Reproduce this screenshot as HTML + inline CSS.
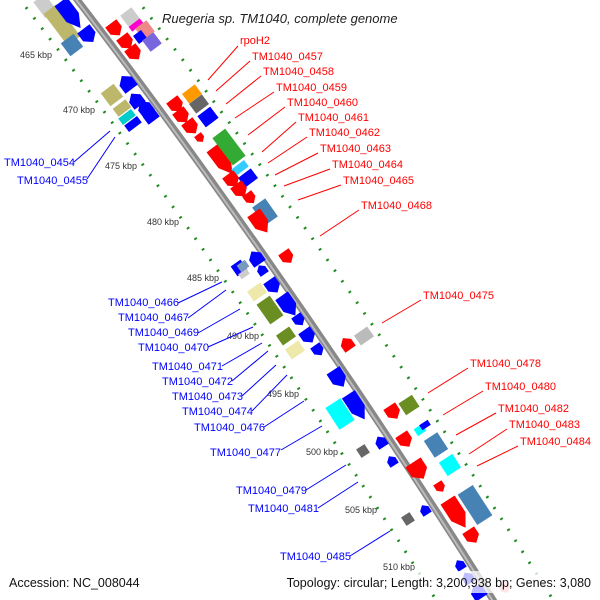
<!DOCTYPE html>
<html><head><meta charset="utf-8"><style>
html,body{margin:0;padding:0;background:#fff}
svg{display:block;font-family:"Liberation Sans",sans-serif}
.r{fill:#f00;font-size:11px}.b{fill:#00f;font-size:11px}.k{fill:#333;font-size:9px}
.lr{stroke:#f00;stroke-width:1}.lb{stroke:#00f;stroke-width:1}
</style></head><body>
<svg width="600" height="600" viewBox="0 0 600 600">
<defs>
<g id="ar"><polygon points="-7,-7 2,-7 8,0 2,7 -7,7"/></g>
<g id="al"><polygon points="7,-7 -2,-7 -8,0 -2,7 7,7"/></g>
</defs>
<!-- tracks -->
<path d="M75,-3 C170,120 330,340 495,603" transform="translate(-57,0)" fill="none" stroke="#228b22" stroke-width="3" stroke-dasharray="2 11"/>
<path d="M75,-3 C170,120 330,340 495,603" transform="translate(60,0)" fill="none" stroke="#228b22" stroke-width="3" stroke-dasharray="2 11"/>
<path d="M75,-3 C170,120 330,340 495,603" fill="none" stroke="#888" stroke-width="7"/>
<path d="M75,-3 C170,120 330,340 495,603" fill="none" stroke="#bbb" stroke-width="2" transform="translate(-1,0)"/>

<!-- genes -->
<g>
<rect x="-10" y="-7" width="20" height="14" fill="#ccc" transform="translate(45,6) rotate(53)"/>
<rect x="-20" y="-8" width="40" height="16" fill="#bdb76b" transform="translate(62,25) rotate(53)"/>
<rect x="-8" y="-8" width="16" height="16" fill="#4682b4" transform="translate(72,45) rotate(53)"/>
<use href="#ar" fill="#00f" transform="translate(70,14) rotate(53) scale(2.2,1.1)"/>
<use href="#ar" fill="#00f" transform="translate(88,35) rotate(53) scale(1.1,1.1)"/>
<rect x="-7" y="-7" width="14" height="14" fill="#ccc" transform="translate(130,17) rotate(53)"/>
<rect x="-3" y="-7" width="6" height="14" fill="#f0c" transform="translate(136,25) rotate(53)"/>
<rect x="-7" y="-7" width="14" height="14" fill="#e88" transform="translate(145,30) rotate(53)"/>
<rect x="-5" y="-5" width="10" height="10" fill="#00f" transform="translate(140,37) rotate(53)"/>
<rect x="-7" y="-7" width="14" height="14" fill="#76d" transform="translate(152,42) rotate(53)"/>
<use href="#ar" fill="#f00" transform="translate(115,29) rotate(53)"/>
<use href="#ar" fill="#f00" transform="translate(126,42) rotate(53)"/>
<use href="#ar" fill="#f00" transform="translate(134,53) rotate(53)"/>
<rect x="-8" y="-8" width="16" height="16" fill="#bdb76b" transform="translate(112,95) rotate(53)"/>
<rect x="-5" y="-8" width="10" height="16" fill="#bdb76b" transform="translate(122,108) rotate(53)"/>
<rect x="-4" y="-8" width="8" height="16" fill="#0cc" transform="translate(127,117) rotate(53)"/>
<rect x="-4" y="-8" width="8" height="16" fill="#00f" transform="translate(133,124) rotate(53)"/>
<use href="#al" fill="#00f" transform="translate(127,83) rotate(53) scale(1.1,1.1)"/>
<use href="#al" fill="#00f" transform="translate(136,100) rotate(53)"/>
<use href="#al" fill="#00f" transform="translate(145,108) rotate(53)"/>
<use href="#al" fill="#00f" transform="translate(150,115) rotate(53)"/>
<rect x="-6" y="-8" width="12" height="16" fill="#f90" transform="translate(192,94) rotate(53)"/>
<rect x="-6" y="-8" width="12" height="16" fill="#666" transform="translate(199,104) rotate(53)"/>
<rect x="-7" y="-8" width="14" height="16" fill="#00f" transform="translate(208,117) rotate(53)"/>
<use href="#ar" fill="#f00" transform="translate(176,105) rotate(53)"/>
<use href="#ar" fill="#f00" transform="translate(182,116) rotate(53)"/>
<use href="#ar" fill="#f00" transform="translate(191,127) rotate(53)"/>
<use href="#ar" fill="#f00" transform="translate(200,138) rotate(53) scale(0.6)"/>
<use href="#ar" fill="#f00" transform="translate(222,160) rotate(53) scale(2.2,1.1)"/>
<rect x="-17" y="-8" width="34" height="16" fill="#3a3" transform="translate(229,147) rotate(53)"/>
<rect x="-4" y="-8" width="8" height="16" fill="#3cf" transform="translate(240,168) rotate(53)"/>
<rect x="-6" y="-8" width="12" height="16" fill="#00f" transform="translate(248,178) rotate(53)"/>
<use href="#ar" fill="#f00" transform="translate(232,180) rotate(53)"/>
<use href="#ar" fill="#f00" transform="translate(240,190) rotate(53)"/>
<use href="#ar" fill="#f00" transform="translate(250,198) rotate(53) scale(0.8)"/>
<rect x="-11" y="-8" width="22" height="16" fill="#4682b4" transform="translate(265,212) rotate(55)"/>
<use href="#ar" fill="#f00" transform="translate(260,222) rotate(55) scale(1.6,1.1)"/>
<use href="#ar" fill="#f00" transform="translate(287,257) rotate(55) scale(0.9)"/>
<rect x="-6" y="-6" width="12" height="12" fill="#00f" transform="translate(239,268) rotate(55)"/>
<rect x="-4" y="-5" width="8" height="10" fill="#79b" transform="translate(243,266) rotate(55)"/>
<rect x="-3" y="-5" width="6" height="10" fill="#ccc" transform="translate(244,274) rotate(55)"/>
<use href="#al" fill="#00f" transform="translate(256,258) rotate(55)"/>
<use href="#al" fill="#00f" transform="translate(262,270) rotate(55) scale(0.7)"/>
<rect x="-6" y="-8" width="12" height="16" fill="#eee8aa" transform="translate(257,292) rotate(55)"/>
<rect x="-12" y="-8" width="24" height="16" fill="#6b8e23" transform="translate(270,310) rotate(55)"/>
<use href="#ar" fill="#00f" transform="translate(273,286) rotate(55)"/>
<use href="#ar" fill="#00f" transform="translate(288,305) rotate(55) scale(1.6,1.1)"/>
<use href="#ar" fill="#00f" transform="translate(299,320) rotate(55) scale(0.8)"/>
<use href="#ar" fill="#00f" transform="translate(308,336) rotate(55)"/>
<use href="#ar" fill="#00f" transform="translate(318,350) rotate(55) scale(0.8)"/>
<rect x="-6" y="-8" width="12" height="16" fill="#6b8e23" transform="translate(286,336) rotate(55)"/>
<rect x="-6" y="-8" width="12" height="16" fill="#eee8aa" transform="translate(295,350) rotate(55)"/>
<use href="#al" fill="#f00" transform="translate(347,344) rotate(55) scale(0.9)"/>
<rect x="-6" y="-8" width="12" height="16" fill="#bbb" transform="translate(364,336) rotate(55)"/>
<use href="#ar" fill="#00f" transform="translate(338,378) rotate(57) scale(1.3,1.1)"/>
<use href="#ar" fill="#00f" transform="translate(356,406) rotate(57) scale(2,1.1)"/>
<rect x="-13" y="-9" width="26" height="18" fill="#0ff" transform="translate(340,414) rotate(57)"/>
<rect x="-7" y="-8" width="14" height="16" fill="#6b8e23" transform="translate(409,405) rotate(57)"/>
<use href="#ar" fill="#f00" transform="translate(393,412) rotate(57)"/>
<rect x="-4" y="-5" width="8" height="10" fill="#0ff" transform="translate(420,430) rotate(57)"/>
<rect x="-3" y="-5" width="6" height="10" fill="#00f" transform="translate(425,425) rotate(57)"/>
<rect x="-10" y="-8" width="20" height="16" fill="#4682b4" transform="translate(436,445) rotate(57)"/>
<rect x="-8" y="-8" width="16" height="16" fill="#0ff" transform="translate(450,465) rotate(57)"/>
<use href="#ar" fill="#f00" transform="translate(405,440) rotate(57)"/>
<use href="#ar" fill="#f00" transform="translate(418,470) rotate(57) scale(1.3)"/>
<use href="#ar" fill="#f00" transform="translate(440,487) rotate(57) scale(0.7)"/>
<rect x="-5" y="-5" width="10" height="10" fill="#666" transform="translate(363,451) rotate(57)"/>
<use href="#al" fill="#00f" transform="translate(381,442) rotate(57) scale(0.8)"/>
<use href="#al" fill="#00f" transform="translate(392,461) rotate(57) scale(0.7)"/>
<use href="#ar" fill="#f00" transform="translate(456,513) rotate(57) scale(2.2,1.2)"/>
<rect x="-18" y="-9" width="36" height="18" fill="#4682b4" transform="translate(475,505) rotate(57)"/>
<use href="#ar" fill="#f00" transform="translate(472,536) rotate(57)"/>
<rect x="-5" y="-5" width="10" height="10" fill="#666" transform="translate(408,519) rotate(57)"/>
<use href="#al" fill="#00f" transform="translate(425,510) rotate(57) scale(0.7)"/>
<use href="#al" fill="#00f" transform="translate(460,565) rotate(57) scale(0.7)"/>
<use href="#al" fill="#00f" transform="translate(468,578) rotate(57) scale(0.8)"/>
<use href="#al" fill="#00f" transform="translate(478,592) rotate(57)"/>
<use href="#ar" fill="#f99" transform="translate(505,588) rotate(57) scale(0.7)"/>
</g>

<!-- kbp labels -->
<text class="k" x="20" y="58">465 kbp</text>
<text class="k" x="63" y="113">470 kbp</text>
<text class="k" x="105" y="169">475 kbp</text>
<text class="k" x="147" y="225">480 kbp</text>
<text class="k" x="187" y="281">485 kbp</text>
<text class="k" x="227" y="339">490 kbp</text>
<text class="k" x="267" y="397">495 kbp</text>
<text class="k" x="306" y="455">500 kbp</text>
<text class="k" x="345" y="513">505 kbp</text>
<text class="k" x="383" y="570">510 kbp</text>

<!-- red labels -->
<g class="lr">
<line x1="238" y1="46" x2="208" y2="80"/>
<line x1="250" y1="61" x2="216" y2="91"/>
<line x1="261" y1="76" x2="226" y2="104"/>
<line x1="274" y1="92" x2="235" y2="118"/>
<line x1="285" y1="107" x2="248" y2="135"/>
<line x1="296" y1="122" x2="262" y2="152"/>
<line x1="307" y1="137" x2="268" y2="163"/>
<line x1="318" y1="153" x2="275" y2="175"/>
<line x1="330" y1="169" x2="284" y2="186"/>
<line x1="341" y1="185" x2="298" y2="200"/>
<line x1="359" y1="210" x2="320" y2="236"/>
<line x1="421" y1="300" x2="382" y2="323"/>
<line x1="468" y1="368" x2="428" y2="393"/>
<line x1="483" y1="391" x2="443" y2="415"/>
<line x1="496" y1="413" x2="456" y2="435"/>
<line x1="507" y1="429" x2="469" y2="454"/>
<line x1="518" y1="446" x2="477" y2="466"/>
</g>
<g class="r">
<text x="240" y="44">rpoH2</text>
<text x="252" y="60">TM1040_0457</text>
<text x="263" y="75">TM1040_0458</text>
<text x="276" y="91">TM1040_0459</text>
<text x="287" y="106">TM1040_0460</text>
<text x="298" y="121">TM1040_0461</text>
<text x="309" y="136">TM1040_0462</text>
<text x="320" y="152">TM1040_0463</text>
<text x="332" y="168">TM1040_0464</text>
<text x="343" y="184">TM1040_0465</text>
<text x="361" y="209">TM1040_0468</text>
<text x="423" y="299">TM1040_0475</text>
<text x="470" y="367">TM1040_0478</text>
<text x="485" y="390">TM1040_0480</text>
<text x="498" y="412">TM1040_0482</text>
<text x="509" y="428">TM1040_0483</text>
<text x="520" y="445">TM1040_0484</text>
</g>
<!-- blue labels -->
<g class="lb">
<line x1="74" y1="162" x2="110" y2="131"/>
<line x1="87" y1="179" x2="115" y2="137"/>
<line x1="178" y1="303" x2="222" y2="282"/>
<line x1="188" y1="318" x2="226" y2="290"/>
<line x1="198" y1="333" x2="240" y2="309"/>
<line x1="208" y1="347" x2="253" y2="327"/>
<line x1="222" y1="366" x2="262" y2="343"/>
<line x1="232" y1="381" x2="268" y2="351"/>
<line x1="242" y1="396" x2="276" y2="365"/>
<line x1="252" y1="411" x2="287" y2="375"/>
<line x1="264" y1="427" x2="304" y2="401"/>
<line x1="281" y1="450" x2="322" y2="426"/>
<line x1="306" y1="490" x2="346" y2="465"/>
<line x1="318" y1="508" x2="358" y2="482"/>
<line x1="350" y1="556" x2="390" y2="531"/>
</g>
<g class="b">
<text x="4" y="166">TM1040_0454</text>
<text x="17" y="184">TM1040_0455</text>
<text x="108" y="306">TM1040_0466</text>
<text x="118" y="321">TM1040_0467</text>
<text x="128" y="336">TM1040_0469</text>
<text x="138" y="351">TM1040_0470</text>
<text x="152" y="370">TM1040_0471</text>
<text x="162" y="385">TM1040_0472</text>
<text x="172" y="400">TM1040_0473</text>
<text x="182" y="415">TM1040_0474</text>
<text x="194" y="431">TM1040_0476</text>
<text x="210" y="456">TM1040_0477</text>
<text x="236" y="494">TM1040_0479</text>
<text x="248" y="512">TM1040_0481</text>
<text x="280" y="560">TM1040_0485</text>
</g>

<text x="162" y="23" font-size="13" font-style="italic" fill="#222">Ruegeria sp. TM1040, complete genome</text>
<rect x="0" y="571" width="600" height="22" fill="#fff" opacity="0.75"/>
<text x="9" y="587" font-size="12.5" fill="#111">Accession: NC_008044</text>
<text x="591" y="587" font-size="12.5" fill="#111" text-anchor="end">Topology: circular; Length: 3,200,938 bp; Genes: 3,080</text>
</svg>
</body></html>
